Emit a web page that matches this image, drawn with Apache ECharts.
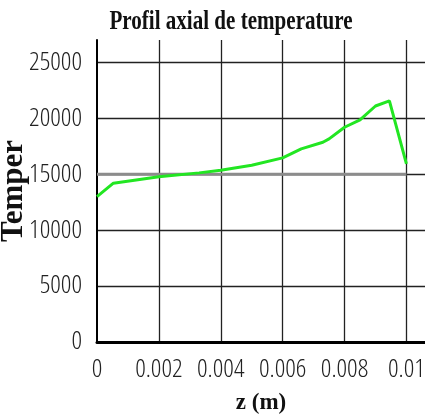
<!DOCTYPE html>
<html>
<head>
<meta charset="utf-8">
<script src="https://cdn.jsdelivr.net/npm/echarts@6/dist/echarts.min.js"></script>
<style>
  html, body { margin: 0; padding: 0; background: #fff; }
  #chart { width: 425px; height: 419px; }
</style>
</head>
<body>
<div id="chart"></div>
<script>
// Axial temperature profile along z
const zPos = [0, 0.00053, 0.002, 0.0033, 0.004, 0.005, 0.006, 0.0066, 0.0073, 0.0075, 0.008, 0.0085, 0.009, 0.00945, 0.01];
const temp = [13000, 14200, 14780, 15120, 15350, 15800, 16460, 17270, 17860, 18160, 19200, 19860, 21100, 21550, 15930];

// Constant reference level
const refZ = [0, 0.01];
const refT = [15000, 15000];

const chartTitle = 'Profil axial de temperature';
const xName = 'z (m)';
const yName = 'Temper';

const tickFont = "'Open Sans', 'Noto Sans', 'Liberation Sans', sans-serif";
const serifFont = "'Liberation Serif', 'DejaVu Serif', serif";

const profile = zPos.map((z, i) => [z, temp[i]]);
const reference = refZ.map((z, i) => [z, refT[i]]);

const chart = echarts.init(document.getElementById('chart'), null, { renderer: 'canvas' });

// Light, narrow digits for the tick labels
const tickLabel = {
  fontFamily: tickFont,
  fontStyle: 'normal',
  fontWeight: '300 extra-condensed',
  fontSize: 26,
  color: '#222'
};

chart.setOption({
  animation: false,
  backgroundColor: '#ffffff',
  graphic: [{
    type: 'text',
    x: 231,
    y: 9,
    scaleX: 0.78,
    style: {
      text: chartTitle,
      font: "bold 27px " + serifFont,
      fill: '#111',
      align: 'center',
      verticalAlign: 'top'
    }
  }],
  grid: { left: 97, right: 0, top: 40, bottom: 77, outerBoundsMode: 'none', containLabel: false },
  xAxis: {
    type: 'value',
    min: 0,
    max: 0.0106,
    interval: 0.002,
    name: xName,
    nameLocation: 'middle',
    nameGap: 50,
    nameMoveOverlap: false,
    nameTextStyle: { fontFamily: serifFont, fontWeight: 'bold', fontSize: 23, color: '#111' },
    axisLine: { show: true, onZero: false, lineStyle: { color: '#000', width: 3 } },
    axisTick: { show: false },
    axisLabel: Object.assign({
      margin: 15,
      formatter: v => (v > 0.01 + 1e-9 ? '' : String(+v.toFixed(3)))
    }, tickLabel),
    splitLine: {
      show: true,
      showMinLine: false,
      showMaxLine: false,
      lineStyle: { color: ['#222', '#222', '#222', '#222', '#222', '#999'], width: 1.3 }
    }
  },
  yAxis: {
    type: 'value',
    min: 0,
    max: 27000,
    interval: 5000,
    name: yName,
    nameLocation: 'middle',
    nameRotate: 90,
    nameGap: 68,
    nameMoveOverlap: false,
    nameTextStyle: { fontFamily: serifFont, fontWeight: 'bold', fontSize: 31, color: '#111' },
    axisLine: { show: true, lineStyle: { color: '#000', width: 2 } },
    axisTick: { show: false },
    axisLabel: Object.assign({
      margin: 15,
      formatter: v => (v > 25000 ? '' : String(v))
    }, tickLabel),
    splitLine: {
      show: true,
      showMinLine: false,
      showMaxLine: false,
      lineStyle: { color: '#222', width: 1.3 }
    }
  },
  series: [
    {
      type: 'line',
      data: reference,
      showSymbol: false,
      silent: true,
      lineStyle: { color: '#8c8c8c', width: 3 },
      z: 2
    },
    {
      type: 'line',
      data: profile,
      showSymbol: false,
      lineStyle: { color: '#22e622', width: 3 },
      z: 3
    }
  ]
});
</script>
</body>
</html>
